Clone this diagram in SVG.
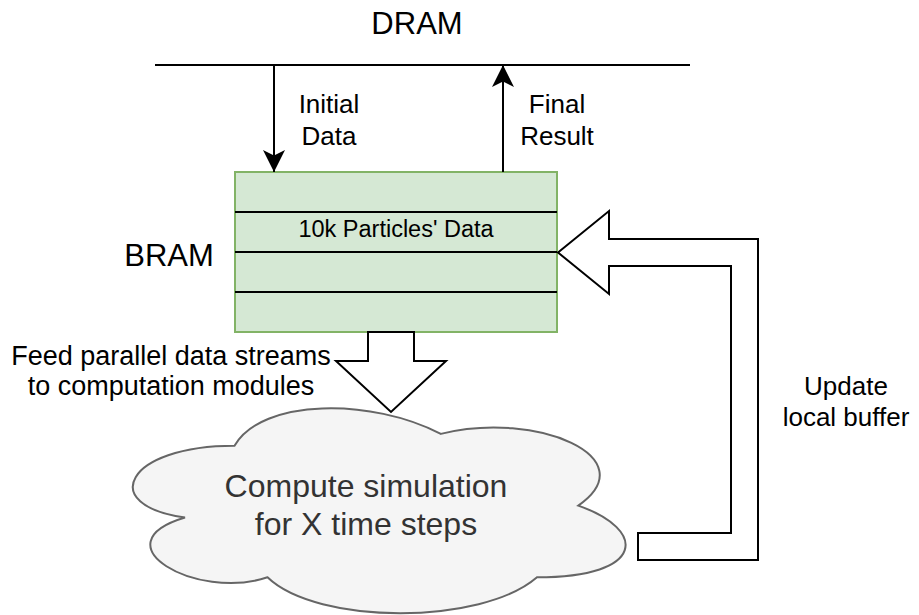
<svg xmlns="http://www.w3.org/2000/svg" width="919" height="615" viewBox="0 0 919 615">
  <style>
    .t { font-family: "Liberation Sans", Arial, Helvetica, sans-serif; fill: #000000; text-anchor: middle; }
    .line { fill: none; stroke: #000000; stroke-width: 2; }
    .block { fill: #ffffff; stroke: #000000; stroke-width: 2; stroke-linejoin: miter; }
  </style>
  <defs>
    <marker id="classic" viewBox="0 0 22 22" refX="22" refY="11" markerWidth="22" markerHeight="22" markerUnits="userSpaceOnUse" orient="auto">
      <path d="M22,11 L0,0 L5.5,11 L0,22 Z" fill="#000000"/>
    </marker>
  </defs>

  <rect width="919" height="615" fill="#ffffff"/>

  <!-- off-chip memory bus -->
  <g id="dram">
    <line class="line" x1="155" y1="65" x2="690" y2="65"/>
    <text class="t" x="417" y="34" font-size="31">DRAM</text>
  </g>

  <!-- on-chip buffer holding particle rows -->
  <g id="bram">
    <rect x="235" y="172" width="322" height="160" fill="#d5e8d4" stroke="#82b366" stroke-width="2"/>
    <line class="line" x1="235" y1="212" x2="557" y2="212"/>
    <line class="line" x1="235" y1="252" x2="557" y2="252"/>
    <line class="line" x1="235" y1="292" x2="557" y2="292"/>
    <text class="t" x="396" y="237" font-size="23.5">10k Particles' Data</text>
    <text class="t" x="169" y="266" font-size="31">BRAM</text>
  </g>

  <!-- compute engine -->
  <g id="compute">
    <path d="M234.5,445.8 C125,445.8 97,505.5 185,517.5 C97,543.8 196,601.2 267.5,577.3 C317,625.1 482,625.1 537,577.3 C647,577.3 647,529.5 578.3,505.6 C647,457.8 537,410 440.8,433.9 C372,398 262,398 234.5,445.8 Z" fill="#f5f5f5" stroke="#666666" stroke-width="2"/>
    <text class="t" x="366" y="497" font-size="32" style="fill:#333333">Compute simulation</text>
    <text class="t" x="366" y="535" font-size="32" style="fill:#333333">for X time steps</text>
  </g>

  <!-- connectors -->
  <g id="connectors">
    <line class="line" x1="274" y1="65" x2="274" y2="172" marker-end="url(#classic)"/>
    <line class="line" x1="503" y1="172" x2="503" y2="65" marker-end="url(#classic)"/>
    <text class="t" x="329" y="113" font-size="26">Initial</text>
    <text class="t" x="329" y="145" font-size="26">Data</text>
    <text class="t" x="557" y="113" font-size="26">Final</text>
    <text class="t" x="557" y="145" font-size="26">Result</text>

    <path class="block" d="M368,332 L368,361 L336,361 L391,412 L446,361 L414,361 L414,332 Z"/>
    <text class="t" x="171" y="365" font-size="27">Feed parallel data streams</text>
    <text class="t" x="171" y="395" font-size="27">to computation modules</text>

    <path class="block" d="M558,252.5 L609,211 L609,239 L758,239 L758,560 L638,560 L638,533 L731,533 L731,266 L609,266 L609,294 Z"/>
    <text class="t" x="846" y="395" font-size="26">Update</text>
    <text class="t" x="846" y="426" font-size="26">local buffer</text>
  </g>
</svg>
